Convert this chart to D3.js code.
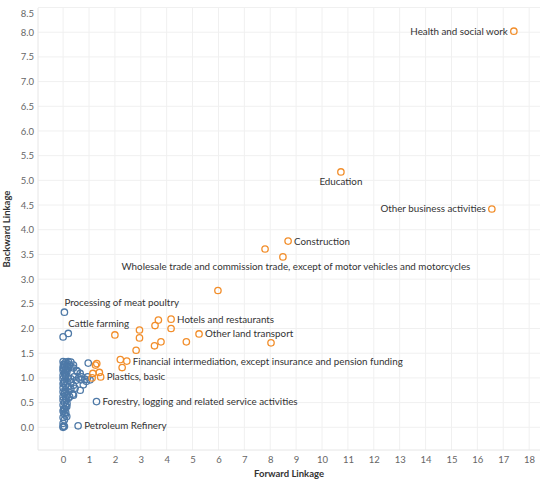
<!DOCTYPE html>
<html>
<head>
<meta charset="utf-8">
<script src="https://cdn.jsdelivr.net/npm/d3@7"></script>
<style>
  body { margin: 0; background: #fff; }
  svg text { font-family: Lato, "Open Sans", sans-serif; }
</style>
</head>
<body>
<div id="chart"></div>
<script>
// Sector linkages: forward (x) vs backward (y)
const orangeX = [17.41, 10.73, 16.56, 8.69, 7.80, 8.49, 5.98, 2.00, 2.95, 2.95, 3.55, 3.68, 4.17, 4.17, 3.78, 3.53, 2.82, 4.76, 5.25, 8.03, 2.21, 2.46, 2.28, 1.30, 1.25, 1.15, 1.40, 1.45, 1.12];
const orangeY = [8.02, 5.17, 4.42, 3.77, 3.61, 3.45, 2.77, 1.87, 1.97, 1.81, 2.06, 2.17, 2.19, 2.00, 1.73, 1.65, 1.56, 1.73, 1.89, 1.71, 1.37, 1.34, 1.21, 1.29, 1.26, 1.09, 1.11, 1.02, 1.00];
const orangeNames = ["Health and social work", "Education", "Other business activities", "Construction", "",
  "Wholesale trade and commission trade, except of motor vehicles and motorcycles", "", "", "", "", "", "",
  "Hotels and restaurants", "", "", "", "", "", "Other land transport", "", "",
  "Financial intermediation, except insurance and pension funding", "", "", "", "", "", "Plastics, basic", ""];

const blueX = [0.05, 0.20, 0.00, 1.29, 0.58, 0.97,
  0.00, 0.10, 0.20, 0.30, 0.05, 0.15, 0.25, 0.00, 0.10, 0.20, 0.30, 0.40, 0.00, 0.15, 0.55, 0.05, 0.40, 0.53,
  0.00, 0.10, 0.20, 0.30, 0.42, 0.00, 0.05, 0.15, 0.31, 0.69, 0.85, 0.95, 1.04, 0.90, 0.60, 0.50, 0.72, 0.66,
  0.78, 0.00, 0.10, 0.20, 0.40, 0.66, 0.46, 0.30, 0.00, 0.10, 0.20, 0.00, 0.05, 0.37, 0.40, 0.15, 0.25, 0.00,
  0.10, 0.20, 0.00, 0.05, 0.15, 0.00, 0.10, 0.14, 0.05, 0.00, 0.10, 0.08, 0.14, 0.00, 0.05, 0.00, 0.00, 0.05,
  0.00, 0.08, 0.02, 0.12, 0.03, 0.07, 0.12, 0.02, 0.09, 0.04, 0.06, 0.16, 0.11, 0.01];
const blueY = [2.33, 1.90, 1.83, 0.52, 0.03, 1.30,
  1.33, 1.32, 1.33, 1.32, 1.27, 1.25, 1.26, 1.20, 1.18, 1.20, 1.22, 1.20, 1.15, 1.13, 1.13, 1.10, 1.26, 1.15,
  1.05, 1.03, 1.00, 0.98, 1.02, 0.98, 0.93, 0.92, 0.92, 0.96, 0.97, 1.02, 0.96, 0.93, 1.00, 0.95, 1.02, 1.09,
  0.86, 0.88, 0.85, 0.82, 0.85, 0.75, 0.79, 0.78, 0.80, 0.76, 0.72, 0.72, 0.68, 0.67, 0.65, 0.65, 0.62, 0.62,
  0.58, 0.59, 0.55, 0.50, 0.48, 0.45, 0.42, 0.42, 0.38, 0.33, 0.30, 0.25, 0.22, 0.20, 0.15, 0.08, 0.02, 0.02,
  0.00, 1.08, 1.28, 1.17, 0.90, 0.70, 0.55, 0.36, 1.06, 0.28, 1.22, 1.29, 1.12, 1.24];
const blueNames = ["Processing of meat poultry", "Cattle farming", "", "Forestry, logging and related service activities", "Petroleum Refinery"];

const xTicks = d3.range(0, 19);
const yTicks = d3.range(0, 8.51, 0.5);

const W = 550, H = 485;
const plot = { left: 38, right: 540, top: 8, bottom: 450 };

const x = d3.scaleLinear().domain([-0.97, 18.42]).range([plot.left, plot.right]);
const y = d3.scaleLinear().domain([-0.46, 8.49]).range([plot.bottom, plot.top]);

const svg = d3.select("#chart").append("svg")
    .attr("width", W)
    .attr("height", H);

// grid
svg.append("g").selectAll("line")
    .data(xTicks)
    .join("line")
    .attr("x1", d => x(d)).attr("x2", d => x(d))
    .attr("y1", plot.top).attr("y2", plot.bottom)
    .attr("stroke", "#f0f0f0");
svg.append("g").selectAll("line")
    .data(yTicks)
    .join("line")
    .attr("x1", plot.left).attr("x2", plot.right)
    .attr("y1", d => y(d)).attr("y2", d => y(d))
    .attr("stroke", "#f0f0f0");
svg.append("line")
    .attr("x1", plot.left).attr("x2", plot.right)
    .attr("y1", plot.bottom).attr("y2", plot.bottom)
    .attr("stroke", "#e6e6e6");
svg.append("line")
    .attr("x1", plot.left).attr("x2", plot.left)
    .attr("y1", plot.top).attr("y2", plot.bottom)
    .attr("stroke", "#e6e6e6");

// axes
const xAxis = svg.append("g")
    .attr("transform", `translate(0,${plot.bottom})`)
    .call(d3.axisBottom(x).tickValues(xTicks).tickSize(0).tickPadding(6));
const yAxis = svg.append("g")
    .attr("transform", `translate(${plot.left},0)`)
    .call(d3.axisLeft(y).tickValues(yTicks).tickFormat(d3.format(".1f")).tickSize(0).tickPadding(4));
[xAxis, yAxis].forEach(a => {
    a.select(".domain").remove();
    a.selectAll("text").attr("fill", "#666").attr("font-size", "9.5px").style("font-family", "Lato, sans-serif");
});
// top label nudged down like the original
yAxis.selectAll(".tick text").filter(d => d === 8.5).attr("dy", "0.9em");

svg.append("text")
    .attr("x", (plot.left + plot.right) / 2)
    .attr("y", 477)
    .attr("text-anchor", "middle")
    .attr("font-size", "9.5px")
    .attr("font-weight", "bold")
    .attr("fill", "#333")
    .text("Forward Linkage");
svg.append("text")
    .attr("transform", `translate(10,${(plot.top + plot.bottom) / 2}) rotate(-90)`)
    .attr("text-anchor", "middle")
    .attr("font-size", "9.5px")
    .attr("font-weight", "bold")
    .attr("fill", "#333")
    .text("Backward Linkage");

const blue = blueX.map((v, i) => ({ x: v, y: blueY[i], name: blueNames[i] || "" }));
const orange = orangeX.map((v, i) => ({ x: v, y: orangeY[i], name: orangeNames[i] || "" }));

function drawPoints(data, col) {
    svg.append("g").selectAll("circle")
        .data(data)
        .join("circle")
        .attr("cx", d => x(d.x))
        .attr("cy", d => y(d.y))
        .attr("r", 3.2)
        .attr("fill", "none")
        .attr("stroke", col)
        .attr("stroke-width", 1.3);
}
drawPoints(blue, "#4e79a7");
drawPoints(orange, "#f28e2b");

// label placement per point
const place = {
    "Health and social work": "left",
    "Other business activities": "left",
    "Education": "below",
    "Wholesale trade and commission trade, except of motor vehicles and motorcycles": "belowShift",
    "Processing of meat poultry": "above",
    "Cattle farming": "above"
};

const labelled = blue.concat(orange).filter(d => d.name);
svg.append("g").selectAll("text")
    .data(labelled)
    .join("text")
    .attr("font-size", "9.8px")
    .attr("fill", "#333")
    .attr("dy", "0.35em")
    .attr("x", d => {
        const p = place[d.name] || "right";
        if (p === "left") return x(d.x) - 6;
        if (p === "below") return x(d.x);
        if (p === "belowShift") return x(d.x) + 13;
        if (p === "above") return x(d.x);
        return x(d.x) + 6;
    })
    .attr("y", d => {
        const p = place[d.name] || "right";
        if (p === "below" || p === "belowShift") return y(d.y) + 10;
        if (p === "above") return y(d.y) - 10;
        return y(d.y);
    })
    .attr("text-anchor", d => {
        const p = place[d.name] || "right";
        if (p === "left") return "end";
        if (p === "below" || p === "belowShift") return "middle";
        return "start";
    })
    .text(d => d.name);
</script>
</body>
</html>
